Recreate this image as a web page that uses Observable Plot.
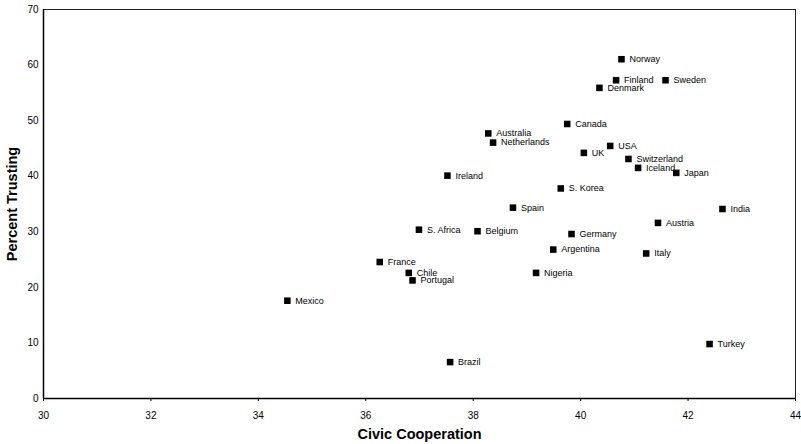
<!DOCTYPE html>
<html>
<head>
<meta charset="utf-8">
<script src="https://cdn.jsdelivr.net/npm/d3@7"></script>
<script src="https://cdn.jsdelivr.net/npm/@observablehq/plot@0.6"></script>
<style>
  body { margin: 0; background: #fff; }
  svg { font-family: "Liberation Sans", Arial, sans-serif; }
</style>
</head>
<body>
<div id="chart"></div>
<script>
const countries = ["Norway","Finland","Denmark","Sweden","Canada","Australia","Netherlands","USA","UK","Switzerland","Iceland","Japan","Ireland","S. Korea","Spain","India","Austria","S. Africa","Belgium","Germany","Argentina","Italy","France","Chile","Nigeria","Portugal","Mexico","Brazil","Turkey"];
const civic = [40.76,40.66,40.35,41.58,39.75,38.28,38.37,40.55,40.06,40.89,41.07,41.78,37.52,39.63,38.74,42.64,41.44,36.99,38.08,39.83,39.49,41.22,36.26,36.80,39.17,36.87,34.54,37.57,42.40];
const trusting = [61.05,57.27,55.9,57.27,49.4,47.7,46.05,45.45,44.2,43.1,41.5,40.6,40.1,37.8,34.34,34.1,31.6,30.38,30.1,29.6,26.8,26.1,24.56,22.6,22.6,21.25,17.6,6.55,9.8];
const xTicks = [30,32,34,36,38,40,42,44];
const yTicks = [0,10,20,30,40,50,60,70];

const data = countries.map((c, i) => ({country: c, x: civic[i], y: trusting[i]}));

const chart = Plot.plot({
  width: 801,
  height: 444,
  marginLeft: 43,
  marginRight: 6,
  marginTop: 9,
  marginBottom: 46,
  style: {fontFamily: "'Liberation Sans', Arial, sans-serif", background: "#fff", color: "#000"},
  x: {domain: [30, 44], ticks: xTicks, tickSize: 3, tickPadding: 10, label: "Civic Cooperation", labelAnchor: "center", labelArrow: "none", labelOffset: 40},
  y: {domain: [0, 70], ticks: yTicks, tickSize: 0, tickPadding: 5, label: "Percent Trusting", labelAnchor: "center", labelArrow: "none", labelOffset: 37},
  marks: [
    Plot.frame({stroke: "#222", strokeWidth: 1}),
    Plot.ruleX([30], {stroke: "#000", strokeWidth: 1.5}),
    Plot.ruleY([0], {stroke: "#000", strokeWidth: 1.5}),
    Plot.dot(data, {x: "x", y: "y", symbol: "square", r: 3.7, fill: "#000", stroke: "none"}),
    Plot.text(data, {x: "x", y: "y", text: "country", textAnchor: "start", dx: 8, fontSize: 9, fill: "#000"})
  ]
});

d3.select(chart).selectAll("[aria-label='x-axis tick label'], [aria-label='y-axis tick label']").attr("font-size", 10);
d3.select(chart).selectAll("[aria-label='x-axis label'], [aria-label='y-axis label']").attr("font-size", 14.5).attr("font-weight", "bold");
document.getElementById("chart").appendChild(chart);
</script>
</body>
</html>
